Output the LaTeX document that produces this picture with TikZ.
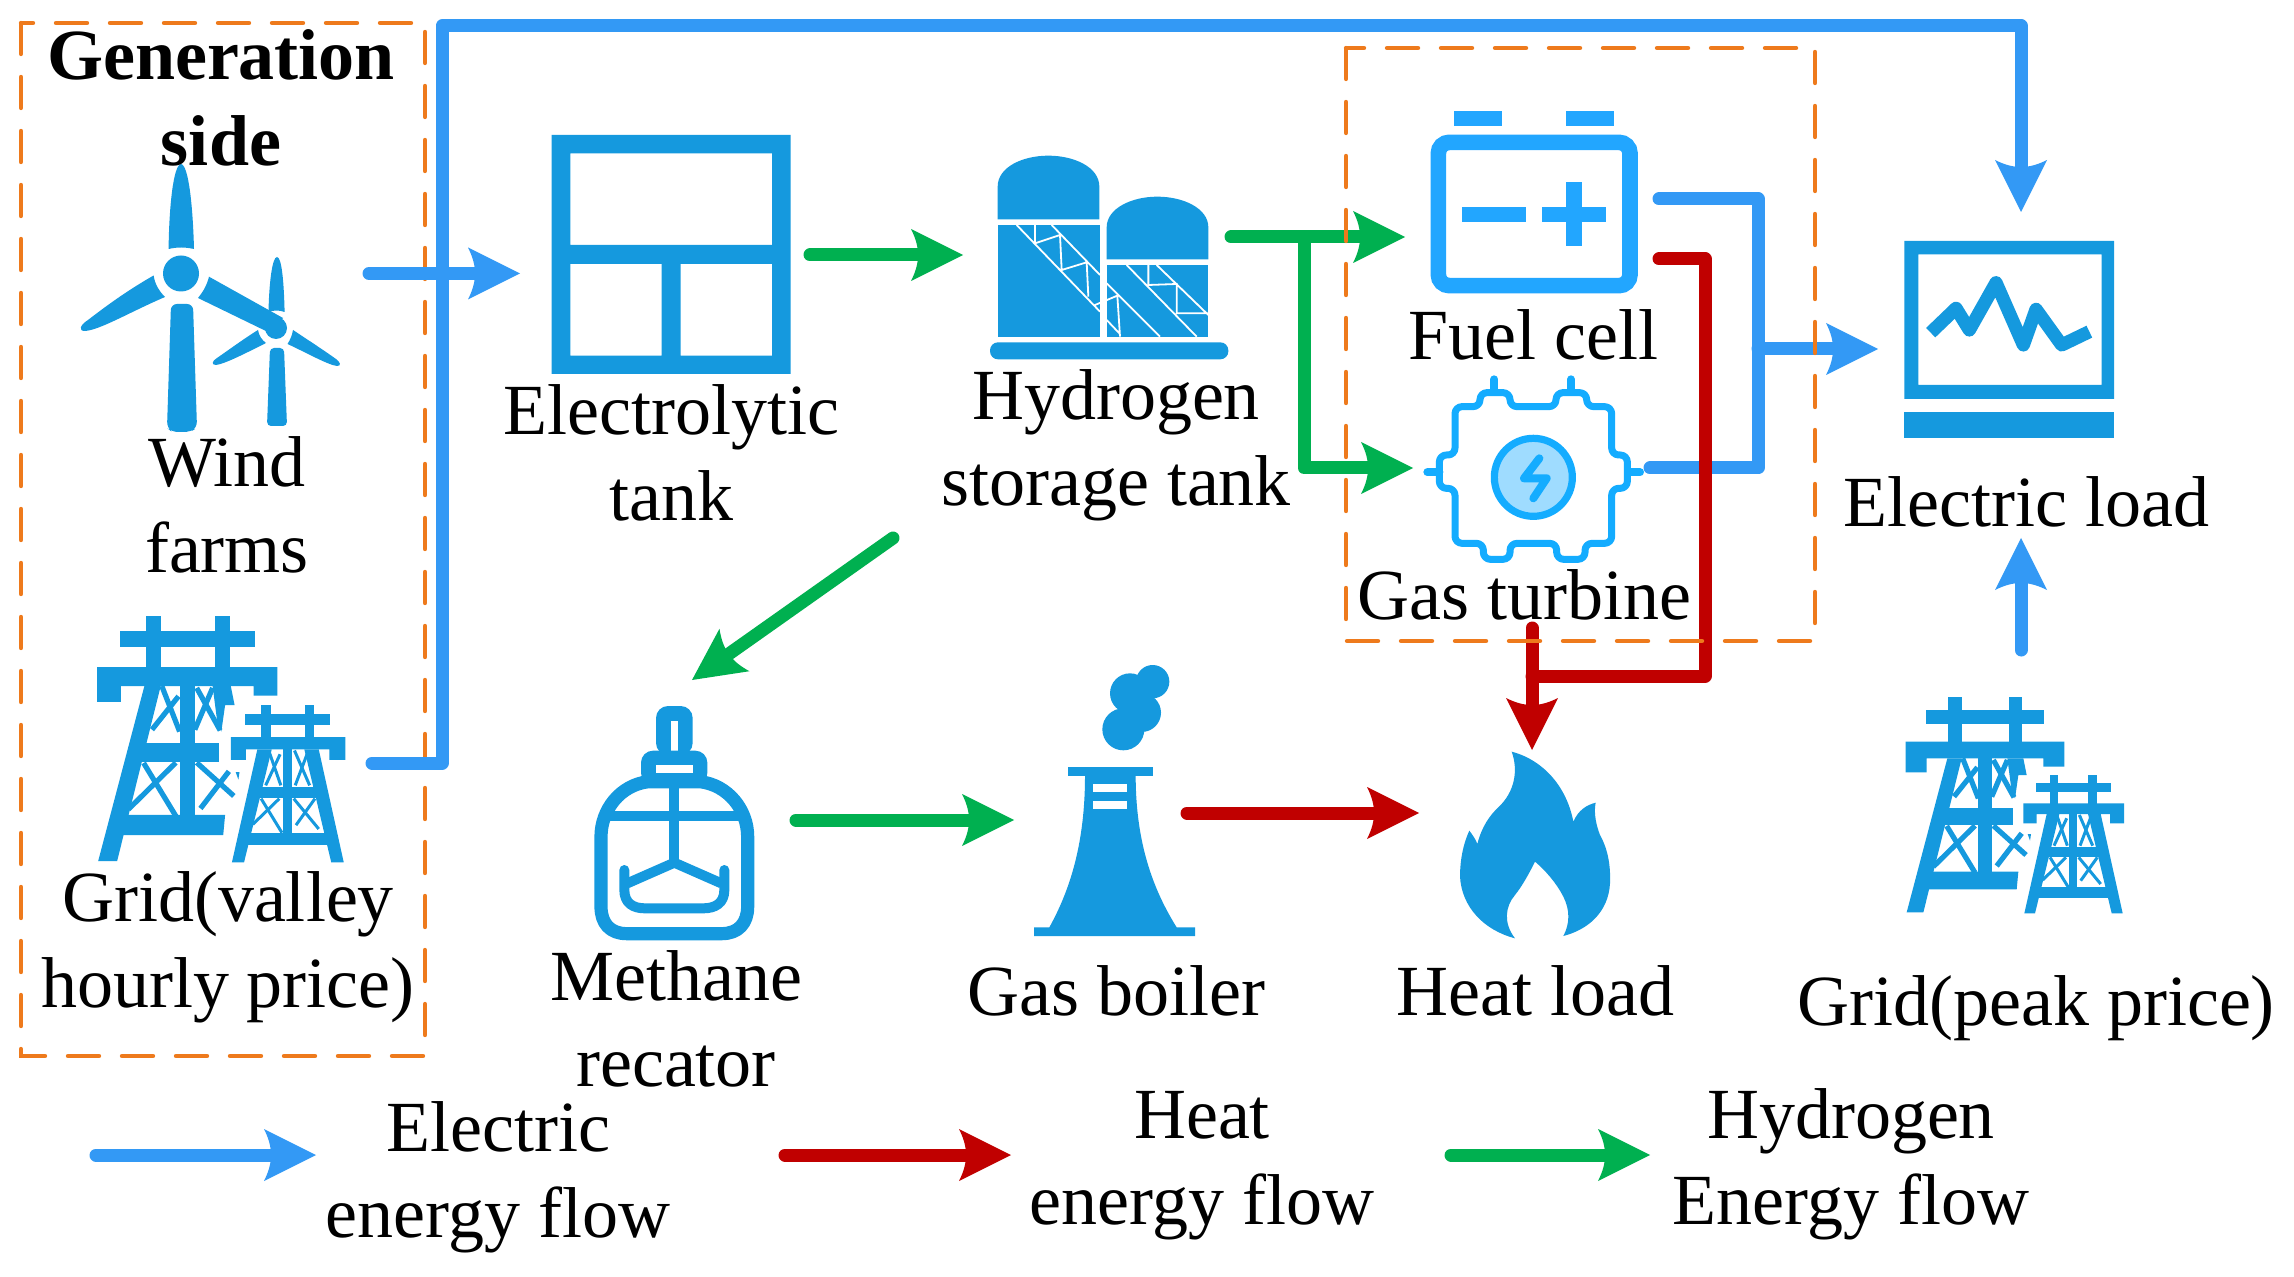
\documentclass[tikz,border=0pt]{standalone}
\usepackage{fontspec}
\setmainfont{Liberation Serif}
\usetikzlibrary{arrows.meta}
\definecolor{iconblue}{HTML}{1599DE}
\definecolor{cellblue}{HTML}{22A6FF}
\definecolor{turbblue}{HTML}{14ACFF}
\definecolor{boltfill}{HTML}{9FDCFF}
\definecolor{elecflow}{HTML}{3399F5}
\definecolor{heatflow}{HTML}{C00000}
\definecolor{hydroflow}{HTML}{00B050}
\definecolor{boxorange}{HTML}{EE7A1C}
\pgfdeclarearrow{
  name=CurvedHead,
  setup code={
    \pgfarrowssettipend{0pt}
    \pgfarrowssetlineend{-20pt}
    \pgfarrowssetvisualbackend{-26pt}
    \pgfarrowssetbackend{-26pt}
    \pgfarrowshullpoint{0pt}{0pt}
    \pgfarrowsupperhullpoint{-26pt}{13pt}
  },
  drawing code={
    \pgfpathmoveto{\pgfpoint{0pt}{0pt}}
    \pgfpathlineto{\pgfpoint{-26pt}{13pt}}
    \pgfpathcurveto{\pgfpoint{-23.5pt}{8pt}}{\pgfpoint{-22.5pt}{4pt}}{\pgfpoint{-22.5pt}{0pt}}
    \pgfpathcurveto{\pgfpoint{-22.5pt}{-4pt}}{\pgfpoint{-23.5pt}{-8pt}}{\pgfpoint{-26pt}{-13pt}}
    \pgfpathclose
    \pgfusepathqfill
  }
}
\tikzset{
  iconbox/.style={inner sep=0pt,outer sep=0pt,draw=none},
  lbl/.style={font=\fontsize{36}{43}\selectfont,align=center,inner sep=0pt,outer sep=0pt,text=black},
  lblb/.style={lbl,font=\fontsize{36}{43}\selectfont\bfseries},
  flow/.style={line width=6.5pt,line cap=round,line join=round,-{CurvedHead[]}},
  flowline/.style={line width=6.5pt,line cap=round,line join=round},
  sidebox/.style={draw=boxorange,line width=2.2pt,line cap=round,dash pattern=on 15.5pt off 11.5pt},
  glyph/.style={fill=iconblue,draw=none},
  gl/.style={draw=iconblue},
}
\newcommand{\pylons}{%
  % big tower
  \fill[glyph] (175,50) rectangle (215,190);
  \fill[glyph] (357,50) rectangle (397,190);
  \fill[glyph] (108,90) rectangle (463,133);
  \fill[glyph] (47,277) -- (47,185) -- (523,185) -- (523,260) -- (460,260) -- (460,235) -- (110,235) -- (110,277) -- cycle;
  \fill[glyph] (172,235) -- (50,697) -- (100,697) -- (215,235) -- cycle;
  \fill[glyph] (352,235) -- (400,235) -- (410,285) -- (385,285) -- (375,355) -- (365,335) -- cycle;
  \fill[glyph] (265,235) rectangle (305,600);
  \fill[glyph] (150,385) rectangle (370,435);
  \fill[glyph] (115,575) -- (385,575) -- (380,628) -- (105,628) -- cycle;
  \draw[gl,line width=2.6pt] (218,235) -- (265,355);
  \draw[gl,line width=2.6pt] (262,262) -- (192,350);
  \draw[gl,line width=2.6pt] (310,240) -- (372,352);
  \draw[gl,line width=2.6pt] (352,240) -- (305,350);
  \draw[gl,line width=2.6pt] (170,438) -- (255,578);
  \draw[gl,line width=2.6pt] (255,437) -- (130,560);
  \draw[gl,line width=2.6pt] (310,437) -- (408,525);
  \draw[gl,line width=2.6pt] (395,460) -- (320,558);
  \fill[glyph] (413,462) -- (423,462) -- (420,482) -- cycle;
  % small tower
  \fill[glyph] (480,285) rectangle (505,375);
  \fill[glyph] (595,285) rectangle (620,375);
  \fill[glyph] (437,310) rectangle (663,337);
  \fill[glyph] (400,430) -- (400,370) -- (702,370) -- (702,430) -- (660,430) -- (660,402) -- (440,402) -- (440,430) -- cycle;
  \fill[glyph] (470,402) -- (403,700) -- (435,700) -- (508,402) -- cycle;
  \fill[glyph] (632,402) -- (698,700) -- (665,700) -- (594,402) -- cycle;
  \fill[glyph] (538,402) rectangle (562,625);
  \fill[glyph] (475,500) rectangle (625,530);
  \fill[glyph] (440,622) rectangle (660,655);
  \draw[gl,line width=1.5pt] (500,405) -- (532,497);
  \draw[gl,line width=1.5pt] (530,415) -- (492,497);
  \draw[gl,line width=1.5pt] (568,405) -- (608,497);
  \draw[gl,line width=1.5pt] (603,410) -- (570,497);
  \draw[gl,line width=1.5pt] (480,532) -- (535,622);
  \draw[gl,line width=1.5pt] (528,532) -- (458,600);
  \draw[gl,line width=1.5pt] (566,532) -- (632,612);
  \draw[gl,line width=1.5pt] (622,532) -- (572,602);
}
\begin{document}
\begin{tikzpicture}[x=0.5pt,y=-0.5pt]
\useasboundingbox (0,0) rectangle (2294,1277);
\fill[white] (0,0) rectangle (2294,1277);

% ---- invisible icon frames (named) ----
\node[iconbox,minimum width=129.5pt,minimum height=134pt] (wind) at (210.5,298) {};
\node[iconbox,minimum width=119.5pt,minimum height=119.5pt] (elec) at (671.5,254.5) {};
\node[iconbox,minimum width=119pt,minimum height=101.5pt] (tank) at (1109,257.5) {};
\node[iconbox,minimum width=103.5pt,minimum height=91pt] (fuel) at (1534.5,202) {};
\node[iconbox,minimum width=108.5pt,minimum height=93pt] (gast) at (1533.5,470) {};
\node[iconbox,minimum width=105pt,minimum height=98.5pt] (load) at (2009,339.5) {};
\node[iconbox,minimum width=124.5pt,minimum height=122.5pt] (gridv) at (221.5,739) {};
\node[iconbox,minimum width=109pt,minimum height=108pt] (gridp) at (2015,805) {};
\node[iconbox,minimum width=80.5pt,minimum height=117.5pt] (meth) at (674.5,823.5) {};
\node[iconbox,minimum width=80.5pt,minimum height=135.5pt] (boil) at (1114.5,800.5) {};
\node[iconbox,minimum width=75.5pt,minimum height=94pt] (heat) at (1535.5,845) {};

% ---- left dashed box ----
\draw[sidebox] (21,23) rectangle (425,1056);

% ---- wind farm icon ----
\fill[glyph] (168.6,249) .. controls (169,210) and (173,165) .. (181,164) .. controls (189,165) and (193,210) .. (194,249) .. controls (185,247) and (177,247) .. cycle;
\fill[glyph] (181,273.5) circle (18);
\fill[glyph,rounded corners=3pt] (171,304) -- (193,304) -- (197,428) -- (190,432) -- (172,432) -- (167,428) -- cycle;
\fill[glyph] (153.6,275.5) .. controls (155,285) and (160,292) .. (165,297) .. controls (130,312) and (100,330) .. (85,331) .. controls (78,331) and (80,325) .. (88,320) .. controls (110,303) and (130,289) .. cycle;
\fill[glyph] (209,276.7) .. controls (207,285) and (203,292) .. (198,298) -- (270,333) -- (283,318) -- cycle;
\fill[glyph] (276,328) circle (11);
\fill[glyph] (268.5,312) .. controls (269,285) and (272,257) .. (277,257) .. controls (282,257) and (284,285) .. (284.6,312) .. controls (279,310) and (274,310) .. cycle;
\fill[glyph,rounded corners=2pt] (270,348) -- (284,348) -- (287,426) -- (267,426) -- cycle;
\fill[glyph] (258,330) .. controls (259,336) and (262,340) .. (266,343) .. controls (248,352) and (225,364) .. (216,365) .. controls (211,365) and (212,361) .. (217,358) .. controls (230,349) and (245,338) .. cycle;
\fill[glyph] (293,330) .. controls (292,336) and (290,340) .. (287.5,344) .. controls (305,352) and (328,365) .. (337,366) .. controls (342,366) and (340,362) .. (336,359) .. controls (322,349) and (305,338) .. cycle;

% ---- electrolytic tank icon ----
\begin{scope}[shift={(530,120)},scale=1/3]
\fill[glyph,even odd rule] (65,45) rectangle (782,762)
  (121,100) rectangle (726,375)
  (121,432) rectangle (395,707)
  (452,432) rectangle (726,707);
\end{scope}

% ---- hydrogen tank icon ----
\begin{scope}[shift={(960,130)},scale=1/3]
\fill[glyph] (113,268) -- (113,170) .. controls (113,110) and (190,77) .. (265,77) .. controls (340,77) and (418,110) .. (418,170) -- (418,268) -- cycle;
\fill[glyph] (113,285) rectangle (420,620);
\fill[glyph] (440,388) -- (440,292) .. controls (440,235) and (515,200) .. (592,200) .. controls (670,200) and (745,235) .. (745,292) -- (745,388) -- cycle;
\fill[glyph] (440,405) rectangle (745,620);
\fill[glyph,rounded corners=4pt] (90,637) rectangle (805,688);
\draw[white,line width=0.9pt] (170,285) -- (420,545) (275,285) -- (420,435)
  (225,285) -- (225,340) -- (300,315) -- (305,420) -- (380,397) -- (385,500)
  (405,525) -- (472,497) -- (480,620)
  (440,460) -- (600,620) (440,570) -- (478,610);
\draw[white,line width=0.9pt] (500,405) -- (710,620) (590,405) -- (745,555)
  (565,405) -- (565,465) -- (650,462) -- (650,550) -- (745,550);
\end{scope}

% ---- fuel cell icon ----
\begin{scope}[shift={(1400,100)},scale=1/3]
\fill[cellblue] (163,32) rectangle (307,78);
\fill[cellblue] (498,32) rectangle (641,78);
\draw[cellblue,line width=7.8pt,rounded corners=5.5pt] (115,127) rectangle (690,557);
\fill[cellblue] (187,320) rectangle (378,367);
\fill[cellblue] (427,320) rectangle (618,367);
\fill[cellblue] (498,247) rectangle (546,438);
\end{scope}

% ---- gas turbine icon ----
\begin{scope}[shift={(1400,100)},scale=1/3]
\draw[turbblue,line width=3.5pt,rounded corners=3.5pt,line join=round]
  (165,920) -- (240,920) -- (240,878) -- (330,878) -- (330,920) -- (468,920) -- (468,878) -- (560,878) -- (560,920) -- (635,920)
  -- (635,1065) -- (682,1065) -- (682,1165) -- (635,1165) -- (635,1330) -- (555,1330) -- (555,1378) -- (470,1378) -- (470,1330)
  -- (330,1330) -- (330,1378) -- (250,1378) -- (250,1330) -- (165,1330) -- (165,1165) -- (118,1165) -- (118,1065) -- (165,1065) -- cycle;
\draw[turbblue,line width=4pt,line cap=round] (283,838) -- (283,875) (513,838) -- (513,875) (82,1117) -- (118,1117) (685,1117) -- (720,1117);
\draw[turbblue,fill=boltfill,line width=3.6pt] (400,1132) circle (117);
\draw[turbblue,line width=4pt,line cap=round,line join=round] (418,1075) -- (372,1135) -- (440,1135) -- (400,1195);
\end{scope}

% ---- electric load icon ----
\begin{scope}[shift={(1880,220)},scale=1/3]
\fill[glyph,even odd rule] (73,63) rectangle (702,537) (115,103) rectangle (665,495);
\fill[glyph] (73,575) rectangle (702,655);
\draw[gl,line width=6.6pt,line join=round] (152,338) -- (228,265) -- (268,330) -- (348,188) -- (430,375) -- (468,268) -- (545,375) -- (628,335);
\end{scope}

% ---- grid icons ----
\begin{scope}[shift={(79.2,597)},scale=0.379]\pylons\end{scope}
\begin{scope}[shift={(1890,680)},scale=1/3]\pylons\end{scope}

% ---- methane reactor icon ----
\begin{scope}[shift={(580,700)},scale=1/3]
\fill[glyph,rounded corners=6pt,even odd rule] (228,18) -- (338,18) -- (338,165) -- (228,165) -- cycle;
\fill[white] (272,63) rectangle (294,152);
\fill[glyph,rounded corners=6pt] (183,152) -- (382,152) -- (382,255) -- (183,255) -- cycle;
\fill[white] (227,196) rectangle (338,220);
\draw[gl,line width=6.6pt,line join=round] (205,245) .. controls (120,255) and (63,330) .. (63,410) -- (63,620) .. controls (63,670) and (90,701) .. (140,701) -- (425,701) .. controls (475,701) and (503,670) .. (503,620) -- (503,410) .. controls (503,330) and (445,255) .. (360,245) -- cycle;
\draw[gl,line width=5pt] (63,347) -- (503,347);
\draw[gl,line width=5pt] (283,240) -- (283,490);
\draw[gl,line width=5pt,line join=round] (142,550) -- (283,488) -- (424,550);
\draw[gl,line width=5pt,line cap=round,line join=round] (133,510) -- (133,570) .. controls (133,610) and (160,625) .. (195,625) -- (370,625) .. controls (405,625) and (433,610) .. (433,570) -- (433,510);
\end{scope}

% ---- gas boiler icon ----
\begin{scope}[shift={(1020,660)},scale=1/3]
\fill[glyph] (398,65) circle (50);
\fill[glyph] (330,100) circle (60);
\fill[glyph] (365,158) circle (58);
\fill[glyph] (310,208) circle (63);
\fill[glyph] (145,320) rectangle (398,347);
\fill[glyph] (195,347) .. controls (195,550) and (150,690) .. (88,802) -- (42,802) -- (42,828) -- (525,828) -- (525,802) -- (470,802) .. controls (400,690) and (347,550) .. (347,347) -- cycle;
\fill[white] (220,372) rectangle (322,397);
\fill[white] (220,422) rectangle (322,448);
\end{scope}

% ---- heat load icon ----
\begin{scope}[shift={(1420,720)},scale=1/3]
\fill[glyph] (275,95) .. controls (370,120) and (440,200) .. (460,305)
  .. controls (475,270) and (500,255) .. (527,248)
  .. controls (520,280) and (530,320) .. (540,345)
  .. controls (565,390) and (572,440) .. (570,490)
  .. controls (565,580) and (500,630) .. (430,648)
  .. controls (450,610) and (450,570) .. (430,530)
  .. controls (410,490) and (375,450) .. (345,425)
  .. controls (325,465) and (305,500) .. (285,525)
  .. controls (255,560) and (250,610) .. (285,655)
  .. controls (190,630) and (125,560) .. (120,470)
  .. controls (120,420) and (130,370) .. (148,332)
  .. controls (158,345) and (168,360) .. (172,372)
  .. controls (185,320) and (210,285) .. (235,262)
  .. controls (285,215) and (295,150) .. (275,95) -- cycle;
\end{scope}

% ---- connector corner points ----
\coordinate (topL) at (442,26);
\coordinate (topR) at (2021,26);
\coordinate (gridcorner) at (442,763);
\coordinate (hbranch) at (1304,237);
\coordinate (busTop) at (1758,199);
\coordinate (busBot) at (1758,468);
\coordinate (busOut) at (1758,349);
\coordinate (redTop) at (1705,259);
\coordinate (redBot) at (1705,676);
\coordinate (redEnd) at (1532,676);
\coordinate (legBs) at (96,1155);
\coordinate (legBe) at (316,1155);
\coordinate (legRs) at (785,1155);
\coordinate (legRe) at (1011,1155);
\coordinate (legGs) at (1451,1155);
\coordinate (legGe) at (1650,1155);

% ---- electric flows ----
\draw[flow,elecflow] ([shift={(26,24)}]gridv.east) -- (gridcorner) -- (topL) -- (topR) -- ([shift={(12,-29)}]load.north);
\draw[flow,elecflow] ([shift={(29,-24.5)}]wind.east) -- ([shift={(-32,19)}]elec.west);
\draw[flowline,elecflow] ([shift={(21,-3)}]fuel.east) -- (busTop) -- (busBot) -- ([shift={(8,-2)}]gast.east);
\draw[flow,elecflow] (busOut) -- ([shift={(-26,9.5)}]load.west);
\draw[flow,elecflow] ([shift={(6,-47)}]gridp.north) -- ([shift={(12,100)}]load.south);

% ---- hydrogen flows ----
\draw[flow,hydroflow] ([shift={(19,0.5)}]elec.east) -- ([shift={(-27,-2.5)}]tank.west);
\draw[flow,hydroflow] ([shift={(3,-20.5)}]tank.east) -- ([shift={(-26,35)}]fuel.west);
\draw[flow,hydroflow] (hbranch) |- ([shift={(-12,-2)}]gast.west);
\draw[flow,hydroflow] ([shift={(-216,179)}]tank.south) -- ([shift={(17.5,-26)}]meth.north);
\draw[flow,hydroflow] ([shift={(41,-3.5)}]meth.east) -- ([shift={(-20,19.5)}]boil.west);

% ---- heat flows ----
\draw[flowline,heatflow] ([shift={(21,57)}]fuel.east) -- (redTop) -- (redBot) -- (redEnd);
\draw[flow,heatflow] ([shift={(-1.5,65)}]gast.south) -- ([shift={(-3.5,-1)}]heat.north);
\draw[flow,heatflow] ([shift={(-8,12.5)}]boil.east) -- ([shift={(-41,-32)}]heat.west);

% ---- right dashed box ----
\draw[sidebox] (1346,48) rectangle (1815,641);

% ---- legend arrows ----
\draw[flow,elecflow] (legBs) -- (legBe);
\draw[flow,heatflow] (legRs) -- (legRe);
\draw[flow,hydroflow] (legGs) -- (legGe);

% ---- labels ----
\node[lblb,anchor=base] (tGen) at (221,165.5) {Generation\\side};
\node[lbl,anchor=base] (tWind) at (227,573) {Wind\\farms};
\node[lbl,anchor=base] (tElec) at (671.5,521) {Electrolytic\\tank};
\node[lbl,anchor=base] (tTank) at (1116,506) {Hydrogen\\storage tank};
\node[lbl,anchor=base] (tFuel) at (1533,360) {Fuel cell};
\node[lbl,anchor=base] (tGas) at (1524,619) {Gas turbine};
\node[lbl,anchor=base] (tLoad) at (2026,527) {Electric load};
\node[lbl,anchor=base] (tGridV) at (228,1007) {Grid(valley\\hourly price)};
\node[lbl,anchor=base] (tMeth) at (676,1086) {Methane\\recator};
\node[lbl,anchor=base] (tBoil) at (1116,1015) {Gas boiler};
\node[lbl,anchor=base] (tHeat) at (1535,1015) {Heat load};
\node[lbl,anchor=base] (tGridP) at (2036,1025) {Grid(peak price)};
\node[lbl,anchor=base] (tLegE) at (498,1237) {Electric\\energy flow};
\node[lbl,anchor=base] (tLegH) at (1202,1224) {Heat\\energy flow};
\node[lbl,anchor=base] (tLegY) at (1851,1224) {Hydrogen\\Energy flow};
\end{tikzpicture}
\end{document}
